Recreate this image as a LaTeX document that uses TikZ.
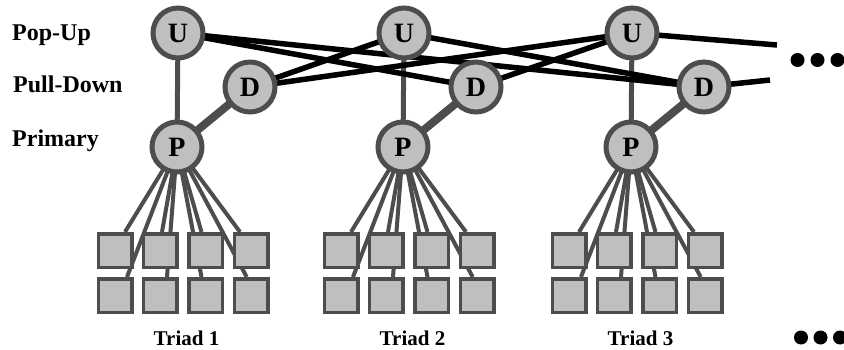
\documentclass[tikz,border=0pt]{standalone}
\usepackage{fontspec}
\setmainfont{Liberation Serif}
\usetikzlibrary{backgrounds}
\definecolor{nodefill}{HTML}{BFBFBF}
\definecolor{nodedraw}{HTML}{4D4D4D}
\tikzset{
  ball/.style={circle, fill=nodefill, draw=nodedraw, line width=5pt, minimum size=50pt, inner sep=0pt, font=\fontsize{28}{28}\selectfont\bfseries},
  proc/.style={rectangle, fill=nodefill, draw=nodedraw, line width=3.5pt, minimum size=33.5pt, inner sep=0pt},
  link/.style={line width=5.5pt, draw=black},
  stem/.style={line width=5pt, draw=nodedraw},
  fatstem/.style={line width=8pt, draw=nodedraw},
  wire/.style={line width=4pt, draw=nodedraw},
  lvl/.style={anchor=base west, font=\fontsize{24}{24}\selectfont\bfseries, inner sep=0pt},
  triadlbl/.style={anchor=base, font=\fontsize{21}{21}\selectfont\bfseries, inner sep=0pt},
  bigdot/.style={circle, fill=black, minimum size=14pt, inner sep=0pt}
}
\begin{document}
\begin{tikzpicture}[x=1pt,y=-1pt]
\path[use as bounding box] (0,0) rectangle (844,350);
% level labels
\node[lvl] (lu) at (12,41) {Pop-Up};
\node[lvl] (ld) at (13,93) {Pull-Down};
\node[lvl] (lp) at (12,147) {Primary};
% triads
\foreach \i/\dx in {1/0,2/226,3/454} {
  \node[ball] (U\i) at (178+\dx,33) {U};
  \node[ball] (D\i) at (250+\dx,87) {D};
  \node[ball] (P\i) at (177+\dx,147) {P};
  \foreach \j/\sx in {1/115,2/160,3/205.5,4/251} {
    \node[proc] (T\i\j) at (\sx+\dx,250.5) {};
    \node[proc] (B\i\j) at (\sx+\dx,295.5) {};
  }
  \node[triadlbl] (L\i) at (186.5+\dx,345) {Triad \i};
}
% free ends
\coordinate (eu) at (777,45);
\coordinate (ed) at (770,80);
% dots
\node[bigdot] (a1) at (797.5,60) {};
\node[bigdot] (a2) at (817.5,60) {};
\node[bigdot] (a3) at (837.5,60) {};
\node[bigdot] (b1) at (801,337.5) {};
\node[bigdot] (b2) at (820.5,337.5) {};
\node[bigdot] (b3) at (840,337.5) {};
\begin{scope}[on background layer]
  \foreach \i in {1,2,3} {
    \draw[stem] (U\i.center) -- (P\i.center);
    \draw[fatstem] (D\i.center) -- (P\i.center);
    \draw[wire] (P\i.center) -- ([xshift=10pt]T\i1.north);
    \draw[wire] (P\i.center) -- ([xshift=2pt]T\i2.north);
    \draw[wire] (P\i.center) -- ([xshift=-4pt]T\i3.north);
    \draw[wire] (P\i.center) -- ([xshift=-11pt]T\i4.north);
    \draw[wire] (P\i.center) -- ([xshift=12pt]B\i1.north);
    \draw[wire] (P\i.center) -- ([xshift=7pt]B\i2.north);
    \draw[wire] (P\i.center) -- ([xshift=-4pt]B\i3.north);
    \draw[wire] (P\i.center) -- ([xshift=-4.3pt]B\i4.north);
  }
  \draw[link] (U1.center) -- (D2.center);
  \draw[link] (U1.center) -- (D3.center);
  \draw[link] (D1.center) -- (U2.center);
  \draw[link] (D1.center) -- (U3.center);
  \draw[link] (U2.center) -- (D3.center);
  \draw[link] (D2.center) -- (U3.center);
  \draw[link] (U3.center) -- (eu);
  \draw[link] (D3.center) -- (ed);
\end{scope}
\end{tikzpicture}
\end{document}
